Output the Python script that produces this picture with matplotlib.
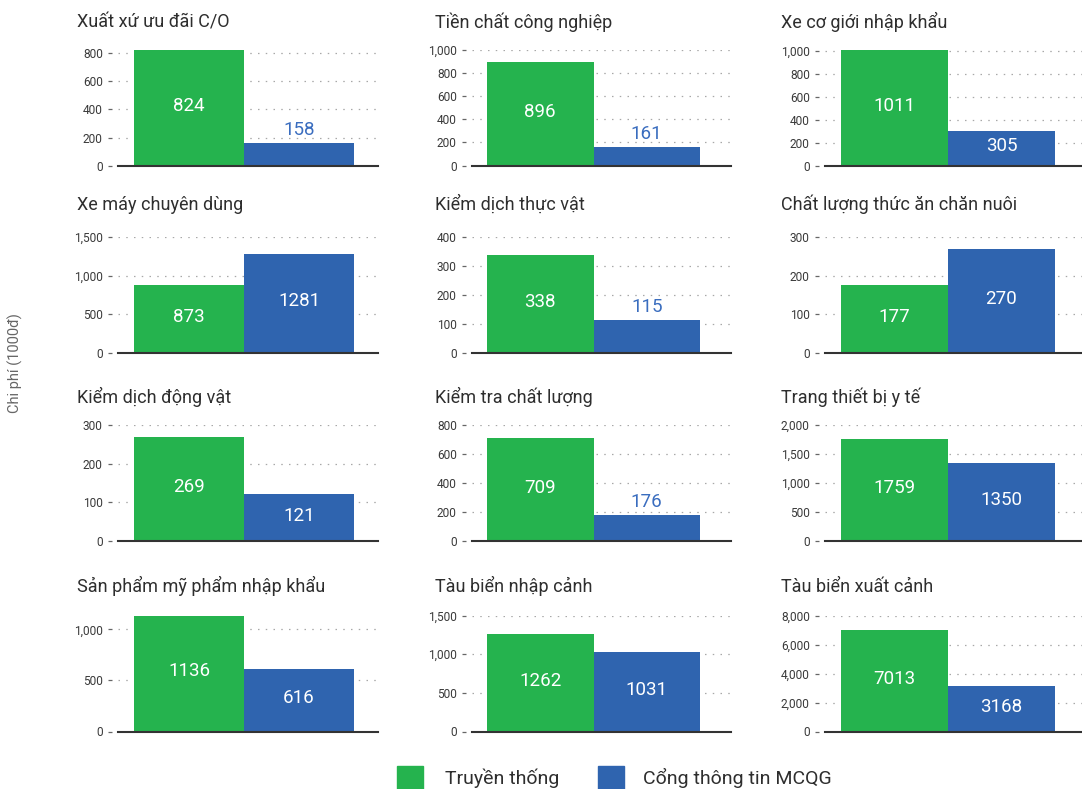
import matplotlib
matplotlib.use("Agg")
import matplotlib.pyplot as plt
from matplotlib.patches import Rectangle
from matplotlib.ticker import FuncFormatter, MultipleLocator

plt.rcParams['font.family'] = ['Roboto', 'DejaVu Sans']

# ---- data -----------------------------------------------------------------
titles = [
    "Xuất xứ ưu đãi C/O", "Tiền chất công nghiệp", "Xe cơ giới nhập khẩu",
    "Xe máy chuyên dùng", "Kiểm dịch thực vật", "Chất lượng thức ăn chăn nuôi",
    "Kiểm dịch động vật", "Kiểm tra chất lượng", "Trang thiết bị y tế",
    "Sản phẩm mỹ phẩm nhập khẩu", "Tàu biển nhập cảnh", "Tàu biển xuất cảnh",
]
series_names = ["Truyền thống", "Cổng thông tin MCQG"]
traditional = [824, 896, 1011, 873, 338, 177, 269, 709, 1759, 1136, 1262, 7013]
portal = [158, 161, 305, 1281, 115, 270, 121, 176, 1350, 616, 1031, 3168]
tick_step = [200, 200, 200, 500, 100, 100, 100, 200, 500, 500, 500, 2000]
tick_top = [800, 1000, 1000, 1500, 400, 300, 300, 800, 2000, 1000, 1500, 8000]
y_label = "Chi phí (1000đ)"

# ---- style ----------------------------------------------------------------
GREEN = "#25b34e"
BLUE = "#2f64af"
BLUE_TEXT = "#3a6dbf"
TEXT = "#2e2e2e"

W, H = 1082, 789
fig = plt.figure(figsize=(W / 100, H / 100), dpi=100)

# panel geometry in pixels
col_axes = [(118, 378), (472, 731), (825, 1082)]
col_bars = [(134, 354), (487, 700), (841, 1055)]
col_title_x = [77, 435, 781]
row_zero = [165.7, 353, 541, 731.5]
row_title_base = [27.5, 210, 403, 592]
AX_H = 116


def fmt(v, _):
    return f"{int(v):,}"


for i, title in enumerate(titles):
    r, c = divmod(i, 3)
    ax_l, ax_r = col_axes[c]
    b_l, b_r = col_bars[c]
    y0 = row_zero[r]
    ax = fig.add_axes([ax_l / W, 1 - y0 / H, (ax_r - ax_l) / W, AX_H / H])

    vals = [traditional[i], portal[i]]
    colors = [GREEN, BLUE]
    ax.bar([0, 1], vals, width=1.0, align='edge', color=colors, zorder=2,
           linewidth=0)

    unit = (b_r - b_l) / 2
    ax.set_xlim(-(b_l - ax_l) / unit, (ax_r - b_l) / unit)
    ymax = max(tick_top[i], max(vals))
    ax.set_ylim(0, ymax)

    ax.yaxis.set_major_locator(MultipleLocator(tick_step[i]))
    ax.yaxis.set_major_formatter(FuncFormatter(fmt))
    ax.set_xticks([])
    ax.grid(axis='y', color='#a8a8a8', linestyle=(0, (1.2, 5)), linewidth=0.9,
            zorder=0)
    ax.set_axisbelow(True)

    for s in ('top', 'right'):
        ax.spines[s].set_visible(False)
    ax.spines['left'].set_position(('outward', 4.3))
    ax.spines['left'].set_visible(False)
    ax.spines['bottom'].set_color('#333333')
    ax.spines['bottom'].set_linewidth(1.5)
    ax.spines['bottom'].set_zorder(3)
    ax.tick_params(axis='y', length=3, width=0.9, color='#666666', pad=3.6,
                   labelsize=8.6, labelcolor='#3a3a3a')

    # value labels: inside the bar when it is tall enough, above otherwise
    for x, v, col in zip([0.5, 1.5], vals, colors):
        if v / ymax < 0.295:
            ax.annotate(f"{v}", (x, v), xytext=(0, 13),
                        textcoords='offset pixels', ha='center', va='center',
                        fontsize=13.5,
                        color=BLUE_TEXT if col == BLUE else GREEN)
        else:
            ax.annotate(f"{v}", (x, v / 2), xytext=(0, 2),
                        textcoords='offset pixels', ha='center', va='center',
                        fontsize=13.5, color='white')

    fig.text(col_title_x[c] / W, 1 - row_title_base[r] / H, title,
             ha='left', va='baseline', fontsize=13, color=TEXT)

# shared y-axis label
fig.text(15 / W, 1 - 363 / H, y_label, rotation=90, ha='center', va='center',
         fontsize=10.5, color='#666666')

# legend
legend_boxes = [(397, GREEN), (598, BLUE)]
legend_text_x = [445, 643]
for (bx, colr), tx, name in zip(legend_boxes, legend_text_x, series_names):
    fig.patches.append(Rectangle((bx / W, 1 - 789 / H), 26 / W, 23 / H,
                                 transform=fig.transFigure, color=colr,
                                 figure=fig))
    fig.text(tx / W, 1 - 784 / H, name, ha='left', va='baseline',
             fontsize=14, color=TEXT)

fig.savefig("out.png", dpi=100)
